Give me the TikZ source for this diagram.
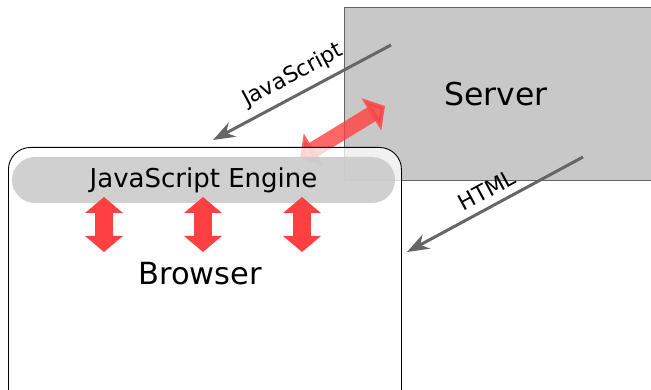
\documentclass[tikz,border=0pt]{standalone}
\usepackage{fontspec}
\setmainfont{DejaVu Sans}
\usetikzlibrary{arrows.meta}
\definecolor{boxgray}{HTML}{C8C8C8}
\definecolor{linegray}{HTML}{666666}
\definecolor{arrowred}{HTML}{FF4040}
\begin{document}
\begin{tikzpicture}[x=1pt, y=-1pt,
    redarrow/.style={arrowred, line width=18pt, {Triangle[width=37pt 0, length=16pt 0]}-{Triangle[width=37pt 0, length=16pt 0]}},
    grayarrow/.style={linegray, line width=3pt, -{Stealth[length=22pt 0, width=16pt 0, inset=7pt 0]}},
    label/.style={font=\fontsize{22}{26}\selectfont, black}]
    \useasboundingbox (0,0) rectangle (651,390);

    % Nodes
    \node (server) [draw=black!60, fill=boxgray, rectangle, anchor=north west, minimum width=330pt, minimum height=173pt, inner sep=0pt] at (344,7) {};
    \node (servertext) [font=\fontsize{31.5}{36}\selectfont] at (496,94) {Server};

    % Arrow between engine and server
    \coordinate (enginetip) at (300,158);
    \coordinate (servertip) at (385,106);
    \draw [redarrow, line width=16pt, opacity=0.8] (enginetip) -- (servertip);

    \node (browser) [draw=black, line width=0.9pt, fill=white, fill opacity=0.75, rectangle, rounded corners=22pt, anchor=north west, minimum width=393pt, minimum height=270pt, inner sep=0pt] at (8,147) {};
    \node (engine) [fill=boxgray, fill opacity=0.85, text opacity=1, rectangle, rounded corners=23pt, minimum width=383pt, minimum height=46pt, inner sep=0pt, font=\fontsize{26}{30}\selectfont] at (203.5,180) {JavaScript Engine};
    \node (browsertext) [font=\fontsize{30.5}{36}\selectfont] at (200,274) {Browser};

    % Arrows
    \foreach \n/\x in {1/104, 2/203, 3/302} {
        \coordinate (up\n) at (\x,197);
        \coordinate (down\n) at (\x,252);
        \draw [redarrow] (up\n) -- (down\n);
    }
    \coordinate (jsstart) at (391,45);
    \coordinate (jsend) at (213,140);
    \draw [grayarrow] (jsstart) -- node [label, midway, above=4pt, sloped] {JavaScript} (jsend);
    \coordinate (htmlstart) at (583,157);
    \coordinate (htmlend) at (407,252);
    \draw [grayarrow] (htmlstart) -- node [label, midway, above=4pt, sloped] {HTML} (htmlend);

\end{tikzpicture}
\end{document}
